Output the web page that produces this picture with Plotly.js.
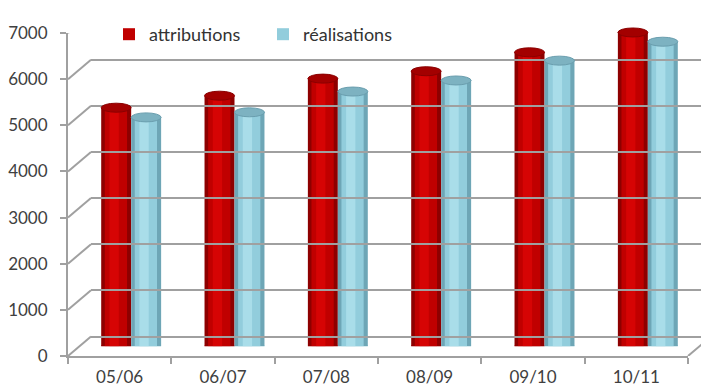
<!DOCTYPE html>
<html><head><meta charset="utf-8">
<script src="https://cdn.plot.ly/plotly-3.0.1.min.js"></script>
<style>html,body{margin:0;padding:0;background:#fff}#chart{width:701px;height:390px}</style>
</head><body><div id="chart"></div>
<script>
var categories = ['05/06','06/07','07/08','08/09','09/10','10/11'];
var attributions = [5170, 5430, 5800, 5960, 6370, 6800];
var realisations = [4960, 5070, 5520, 5760, 6190, 6600];
var yTickVals = [0,1000,2000,3000,4000,5000,6000,7000];
var seriesNames = ['attributions','réalisations'];

var W = 701, H = 390;
var L = 68, R = 0, T = 14, B = 34;
var pw = W - L - R, ph = H - T - B;
var dx = 23, dy = 19.5; // depth offset in px
var frontW = 620, frontH = 323;
var bw = 0.29;

var idx = categories.map(function(c,i){return i;});

function cyl(vals, name, off, cols){
  var tr = [];
  tr.push({type:'bar', x:idx, y:vals, xaxis:'x2', yaxis:'y2', offset:off, width:bw,
    marker:{color:cols[0], line:{width:0}}, showlegend:false, hoverinfo:'skip'});
  tr.push({type:'bar', x:idx, y:vals, xaxis:'x2', yaxis:'y2', offset:off+0.035, width:bw-0.075,
    marker:{color:cols[1], line:{width:0}}, name:name, showlegend:true, hoverinfo:'skip'});
  tr.push({type:'bar', x:idx, y:vals, xaxis:'x2', yaxis:'y2', offset:off+0.08, width:0.09,
    marker:{color:cols[2], line:{width:0}}, showlegend:false, hoverinfo:'skip'});
  return tr;
}
var redCols = ['#8e0000','#c00000','#d60404'];
var blueCols = ['#6ea6b6','#92cddc','#a9dde9'];
var data = [].concat(
  cyl(attributions, seriesNames[0], -bw, redCols),
  cyl(realisations, seriesNames[1], 0, blueCols)
);
data.push({type:'scatter', x:[0], y:[0], xaxis:'x3', yaxis:'y3', mode:'markers',
  marker:{opacity:0}, showlegend:false, hoverinfo:'skip'});

var shapes = [];
yTickVals.forEach(function(v){
  shapes.push({type:'line', xref:'paper', yref:'y', ysizemode:'pixel', yanchor:v,
    x0:0, x1:dx/pw, y0:0, y1:dy, line:{color:'#a0a0a0', width:2}, layer:'below'});
});
shapes.push({type:'line', xref:'paper', yref:'y', ysizemode:'pixel', yanchor:0,
  x0:frontW/pw, x1:(frontW+dx)/pw, y0:0, y1:dy, line:{color:'#a0a0a0', width:2}, layer:'below'});
function ends(vals, off, bottomCol, topCol, topLine){
  vals.forEach(function(v,i){
    shapes.push({type:'circle', xref:'x2', yref:'y2', ysizemode:'pixel', yanchor:0,
      x0:i+off, x1:i+off+bw, y0:-4.5, y1:4.5, fillcolor:bottomCol, line:{width:0}, layer:'below'});
    shapes.push({type:'circle', xref:'x2', yref:'y2', ysizemode:'pixel', yanchor:v,
      x0:i+off, x1:i+off+bw, y0:-4.5, y1:4.5, fillcolor:topCol, line:{width:1, color:topLine}, layer:'above'});
  });
}
ends(attributions, -bw, '#b00000', '#a30000', '#8a0000');
ends(realisations, 0, '#88c2d2', '#7db2c1', '#6a9eae');

var font = {family:'Lato, "Noto Sans", sans-serif', size:17, color:'#404040'};
var layout = {
  width:W, height:H, margin:{l:L, r:R, t:T, b:B, autoexpand:false},
  paper_bgcolor:'#fff', plot_bgcolor:'rgba(0,0,0,0)',
  barmode:'overlay', font:font, showlegend:true,
  legend:{orientation:'h', x:(109-L)/pw, y:1-(16-T)/ph, xanchor:'left', yanchor:'top',
    font:{family:'Lato, "Noto Sans", sans-serif', size:18, color:'#333'}, bgcolor:'rgba(0,0,0,0)',
    entrywidth:109, entrywidthmode:'pixels', itemwidth:30, tracegroupgap:0},
  xaxis:{domain:[0, frontW/pw], anchor:'y', type:'category', tickmode:'array',
    tickvals:idx, ticktext:categories, range:[-0.5, 5.5], tickson:'boundaries',
    ticks:'outside', ticklen:6, tickcolor:'#a0a0a0', tickwidth:2, ticklabelstandoff:5,
    showline:true, linecolor:'#a0a0a0', linewidth:2, showgrid:false, zeroline:false,
    tickfont:font},
  yaxis:{domain:[0, frontH/ph], anchor:'x', range:[0,7000], tickvals:yTickVals,
    ticks:'outside', ticklen:6, tickcolor:'#a0a0a0', tickwidth:2, ticklabelstandoff:9,
    showline:true, linecolor:'#a0a0a0', linewidth:2, showgrid:false, zeroline:false,
    tickfont:font},
  xaxis2:{domain:[11.5/pw, (11.5+frontW)/pw], anchor:'y2', range:[-0.5,5.5],
    visible:false, type:'linear'},
  yaxis2:{domain:[9.75/ph, (9.75+frontH)/ph], anchor:'x2', range:[0,7000], visible:false},
  xaxis3:{domain:[dx/pw, 1], anchor:'y3', range:[0,1], visible:false},
  yaxis3:{domain:[dy/ph, 1], anchor:'x3', range:[0,7000], tickvals:yTickVals,
    showticklabels:false, ticks:'', showgrid:true, gridcolor:'#a0a0a0', gridwidth:2,
    zeroline:true, zerolinecolor:'#a0a0a0', zerolinewidth:2, showline:false},
  shapes:shapes
};
Plotly.newPlot('chart', data, layout, {staticPlot:true, displayModeBar:false});
</script></body></html>
